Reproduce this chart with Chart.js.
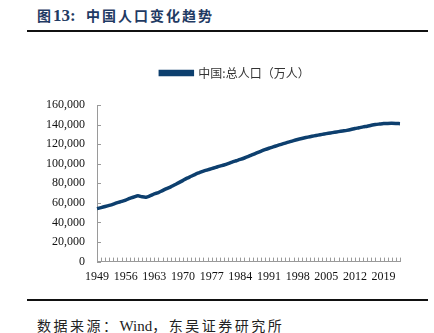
<!DOCTYPE html>
<html>
<head>
<meta charset="utf-8">
<script src="https://cdn.jsdelivr.net/npm/chart.js@4/dist/chart.umd.min.js"></script>
<style>
  html, body { margin: 0; padding: 0; background: #fff; }
  body { width: 434px; height: 333px; position: relative; overflow: hidden; }
  #title { position: absolute; left: 37px; top: 5px; font: bold 14px "Noto Sans CJK SC", sans-serif; letter-spacing: 2px; color: #1f3a63; white-space: nowrap; }
  #title .num { font-family: "Liberation Serif", "Times New Roman", serif; font-size: 17px; letter-spacing: 0; }
  .rule { position: absolute; left: 27px; width: 401px; height: 2px; background: #111; }
  #source { position: absolute; left: 37px; top: 315px; font: 14px "Noto Sans CJK SC", sans-serif; letter-spacing: 2.5px; color: #222; white-space: nowrap; }
  #source .en { font-family: "Liberation Serif", "Times New Roman", serif; font-size: 15px; letter-spacing: 0; }
  #wrap { position: absolute; left: 0; top: 40px; width: 434px; height: 255px; }
</style>
</head>
<body>
<div id="title">图<span class="num">13:</span>&nbsp; 中国人口变化趋势</div>
<div class="rule" style="top:30px"></div>
<div id="wrap"><canvas id="chart"></canvas></div>
<div class="rule" style="top:299px"></div>
<div id="source">数据来源：<span class="en">Wind</span>，东吴证券研究所</div>
<script>
// 中国总人口（万人），1949-2023
const years = [];
for (let y = 1949; y <= 2023; y++) years.push(String(y));

const population = [
  54167, 55196, 56300, 57482, 58796, 60266, 61465, 62828, 64653, 65994,
  67207, 66207, 65859, 67295, 69172, 70499, 72538, 74542, 76368, 78534,
  80671, 82992, 85229, 87177, 89211, 90859, 92420, 93717, 94974, 96259,
  97542, 98705, 100072, 101654, 103008, 104357, 105851, 107507, 109300, 111026,
  112704, 114333, 115823, 117171, 118517, 119850, 121121, 122389, 123626, 124761,
  125786, 126743, 127627, 128453, 129227, 129988, 130756, 131448, 132129, 132802,
  133450, 134091, 134916, 135922, 136726, 137646, 138326, 139232, 140011, 140541,
  141008, 141212, 141260, 141175, 140967
];

const yTicks = [0, 20000, 40000, 60000, 80000, 100000, 120000, 140000, 160000];
const seriesName = "中国:总人口（万人）";
const lineColor = "#0d3f6e";
const axisColor = "#9a9a9a";
const serif = "'Liberation Serif', 'Times New Roman', 'DejaVu Serif', serif";

// inward tick marks on both axes
const innerTicks = {
  id: "innerTicks",
  afterDraw(chart) {
    const ctx = chart.ctx;
    const x = chart.scales.x, y = chart.scales.y;
    ctx.save();
    ctx.strokeStyle = axisColor;
    ctx.lineWidth = 1;
    ctx.beginPath();
    for (let i = 0; i < years.length; i++) {
      const px = Math.round(x.getPixelForValue(i)) + 0.5;
      ctx.moveTo(px, y.bottom);
      ctx.lineTo(px, y.bottom - 4);
    }
    yTicks.forEach(v => {
      const py = Math.round(y.getPixelForValue(v)) + 0.5;
      ctx.moveTo(x.left, py);
      ctx.lineTo(x.left + 4, py);
    });
    ctx.stroke();
    ctx.restore();
  }
};

// extra room under the legend, and legend nudged right
const legendGap = {
  id: "legendGap",
  beforeInit(chart) {
    const fit = chart.legend.fit;
    chart.legend.fit = function () {
      fit.bind(chart.legend)();
      this.height += 16;
    };
  },
  afterLayout(chart) {
    chart.legend.left += 18;
    chart.legend.right += 18;
  }
};

new Chart(document.getElementById("chart"), {
  type: "line",
  data: {
    labels: years,
    datasets: [{
      label: seriesName,
      data: population,
      borderColor: lineColor,
      backgroundColor: lineColor,
      borderWidth: 3.5,
      pointRadius: 0,
      tension: 0.3,
      fill: false,
    }],
  },
  options: {
    responsive: true,
    maintainAspectRatio: false,
    animation: false,
    layout: { padding: { left: 34, right: 34, top: 7, bottom: 3 } },
    plugins: {
      legend: {
        display: true,
        labels: {
          boxWidth: 32,
          boxHeight: 3,
          padding: 20,
          color: "#333",
          font: { family: "'Noto Sans CJK SC', sans-serif", size: 12 },
        },
      },
      tooltip: { enabled: false },
    },
    scales: {
      x: {
        grid: { display: false, drawTicks: false },
        border: { color: axisColor },
        ticks: {
          autoSkip: false,
          maxRotation: 0,
          padding: 8,
          color: "#111",
          font: { family: serif, size: 12 },
          callback: (v, i) => ((i % 7 === 0 && i <= 70) ? years[i] : ""),
        },
      },
      y: {
        min: 0,
        max: 160000,
        grid: { display: false, drawTicks: false },
        border: { color: axisColor },
        afterBuildTicks: (s) => { s.ticks = yTicks.map(v => ({ value: v })); },
        ticks: {
          padding: 12,
          color: "#111",
          font: { family: serif, size: 12 },
          callback: (v) => v.toLocaleString("en-US"),
        },
      },
    },
  },
  plugins: [innerTicks, legendGap],
});
</script>
</body>
</html>
